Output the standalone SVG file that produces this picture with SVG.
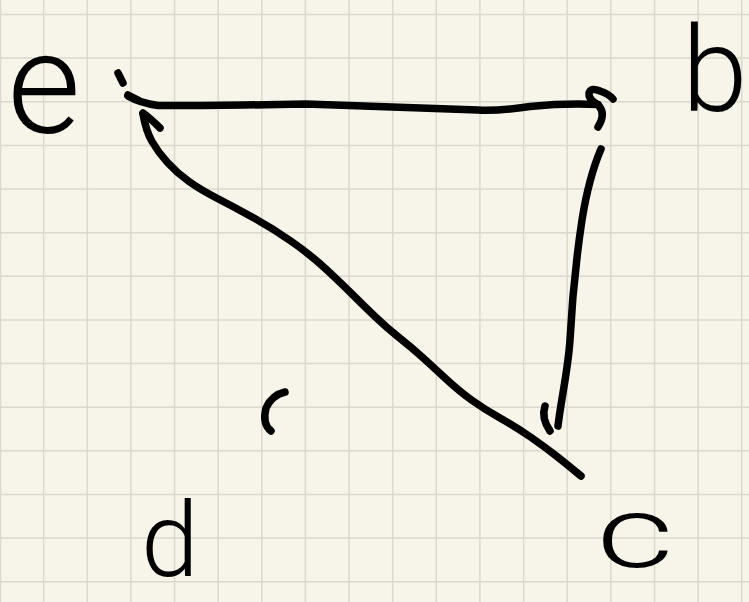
<svg xmlns="http://www.w3.org/2000/svg" width="749" height="602" viewBox="0 0 749 602">
  <style>
    .grid { stroke: #dbd9cd; stroke-width: 1.5; fill: none; }
    .ink { fill: none; stroke: #000; stroke-width: 7.5; stroke-linecap: round; stroke-linejoin: round; }
    .lbl { font-family: Roboto, Lato, "Liberation Sans", sans-serif; font-weight: 300; fill: #000; }
  </style>
  <rect x="0" y="0" width="749" height="602" fill="#f7f5e9"/>
  <path class="grid" d="M0.5 0V602 M43.6 0V602 M87.3 0V602 M130.9 0V602 M174.5 0V602 M218.2 0V602 M261.8 0V602 M305.4 0V602 M349 0V602 M392.7 0V602 M436.3 0V602 M479.9 0V602 M523.6 0V602 M567.2 0V602 M610.8 0V602 M654.5 0V602 M698.1 0V602 M741.7 0V602 M0 14.5H749 M0 58.1H749 M0 101.8H749 M0 145.4H749 M0 189H749 M0 232.7H749 M0 276.3H749 M0 319.9H749 M0 363.5H749 M0 407.2H749 M0 450.8H749 M0 494.4H749 M0 538.1H749 M0 581.7H749"/>

  <g id="node-e"><text class="lbl" x="44" y="133" font-size="142" text-anchor="middle">e</text></g>
  <g id="node-b"><text class="lbl" x="682" y="111" font-size="118">b</text></g>
  <g id="node-c"><text class="lbl" font-size="100" text-anchor="middle" transform="translate(635 567) scale(1.5 1)">c</text></g>
  <g id="node-d"><text class="lbl" x="170" y="576" font-size="104" text-anchor="middle">d</text></g>

  <g id="connectors">
    <g id="edge-e-b">
      <path class="ink" d="M118 73 Q121 79 123 83"/>
      <path class="ink" stroke-width="10" d="M128 95 L138 100"/>
      <path class="ink" d="M128 96 Q140 103 158 105.5 Q200 106 306 104 Q420 108 478 110 Q500 111 530 106.5 Q565 103 598 104.5"/>
      <path class="ink" d="M598 105 Q588 99 589 93 Q591 87 600 91 Q609 94 613 99 M599 106 Q606 114 598 127"/>
    </g>
    <g id="edge-b-c">
      <path class="ink" d="M601 149 C592 170 586 195 582 220 C576 260 572 300 570 340 C568 370 561 400 558 426"/>
      <path class="ink" d="M545 406 Q541 418 550 431"/>
    </g>
    <g id="edge-c-e">
      <path class="ink" d="M581 476 Q569 466 557 456.5 Q545 447 530.5 437 Q516 427 500 418 Q484 409 471.5 400 Q459 391 445 378 Q431 365 421 356 Q411 347 399 337.5 Q387 328 375 316.5 Q363 305 353.5 295.5 Q344 286 327.5 270.5 Q311 255 291.5 241.5 Q272 228 253 217.5 Q234 207 217.5 198.5 Q201 190 189 181.5 Q177 173 167.5 162.5 Q158 152 152 141.5 Q146 131 143 114"/>
      <path class="ink" d="M160 128 Q150 118 143 113"/>
    </g>
  </g>

  <g id="mark">
    <path class="ink" d="M285 392 Q272 395 266 408 Q262 424 271 431"/>
  </g>
</svg>
